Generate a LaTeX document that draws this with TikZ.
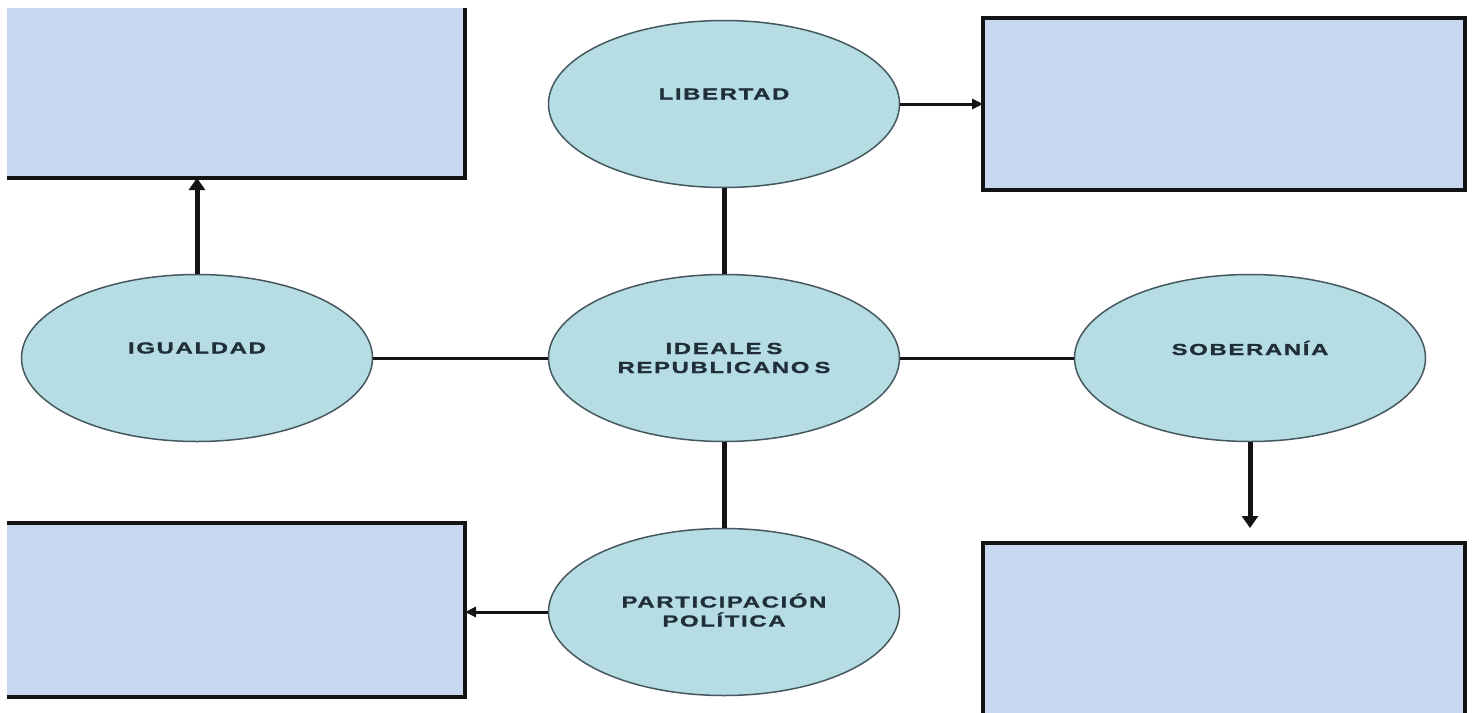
\documentclass[tikz,border=0pt]{standalone}
\usepackage{fontspec}
\usetikzlibrary{shapes.geometric,arrows.meta}
\newfontfamily\lblfont[FakeStretch=1.5,LetterSpace=10,FakeBold=1]{Liberation Sans Bold}
\definecolor{boxfill}{RGB}{198,215,239}
\definecolor{ellfill}{RGB}{182,221,227}
\definecolor{ellline}{RGB}{70,88,95}
\definecolor{txtcol}{RGB}{32,46,58}
\definecolor{linecol}{RGB}{20,20,22}
\begin{document}
\begin{tikzpicture}[x=1pt,y=-1pt,
  boxbg/.style={rectangle, fill=boxfill, inner sep=0, outer sep=0},
  boxline/.style={line width=4.5pt, draw=linecol, line join=miter},
  idea/.style={ellipse, draw=ellline, line width=1.5pt, fill=ellfill, minimum width=351, minimum height=167, inner sep=0},
  txt/.style={font={\lblfont\fontsize{16}{19}\selectfont}, text=txtcol, align=center, inner sep=0},
  thickcon/.style={line width=5pt, draw=linecol},
  thincon/.style={line width=3pt, draw=linecol},
  bigtip/.style={-{Triangle[length=12pt,width=16pt]}},
  smalltip/.style={-{Triangle[length=11pt,width=10pt]}}
]
\useasboundingbox (0,0) rectangle (1474,712);
\fill[white] (0,0) rectangle (1474,712);

% boxes
\node[boxbg, minimum width=458, minimum height=170] (tl) at (236,93) {};
\draw[boxline] (tl.north east) -- (tl.south east) -- (tl.south west);
\node[boxbg, minimum width=482, minimum height=172] (tr) at (1224,104) {};
\draw[boxline] (tr.north west) rectangle (tr.south east);
\node[boxbg, minimum width=458, minimum height=174] (bl) at (236,610) {};
\draw[boxline] (bl.north west) -- (bl.north east) -- (bl.south east) -- (bl.south west);
\node[boxbg, minimum width=482, minimum height=174] (br) at (1224,630) {};
\draw[boxline] (br.south west) -- (br.north west) -- (br.north east) -- (br.south east);

% ellipses
\node[idea] (lib) at (724,104) {};
\node[idea] (ig) at (197,358) {};
\node[idea] (ideal) at (724,358) {};
\node[idea] (sob) at (1250,358) {};
\node[idea] (part) at (724,612) {};

\node[txt] (libt) at ([yshift=10pt]lib.center) {LIBERTAD};
\node[txt] (igt) at ([yshift=10pt]ig.center) {IGUALDAD};
\node[txt] (idealt) at (ideal.center) {IDEALE\kern5pt S\\REPUBLICANO\kern5pt S};
\node[txt] (sobt) at ([yshift=10pt]sob.center) {SOBERANÍA};
\node[txt] (partt) at ([yshift=2pt]part.center) {PARTICIPACIÓN\\POLÍTICA};

% connectors
\draw[thickcon] (lib.south) -- (ideal.north);
\draw[thickcon] (ideal.south) -- (part.north);
\draw[thincon] (ig.east) -- (ideal.west);
\draw[thincon] (ideal.east) -- (sob.west);
\draw[thickcon, bigtip] (ig.north) -- (ig.north |- tl.south);
\draw[thincon, smalltip] (lib.east) -- (lib.east -| tr.west);
\coordinate (sobend) at (1250,528);
\draw[thickcon, bigtip] (sob.south) -- (sobend);
\draw[thincon, smalltip] (part.west) -- (part.west -| bl.east);
\end{tikzpicture}
\end{document}
